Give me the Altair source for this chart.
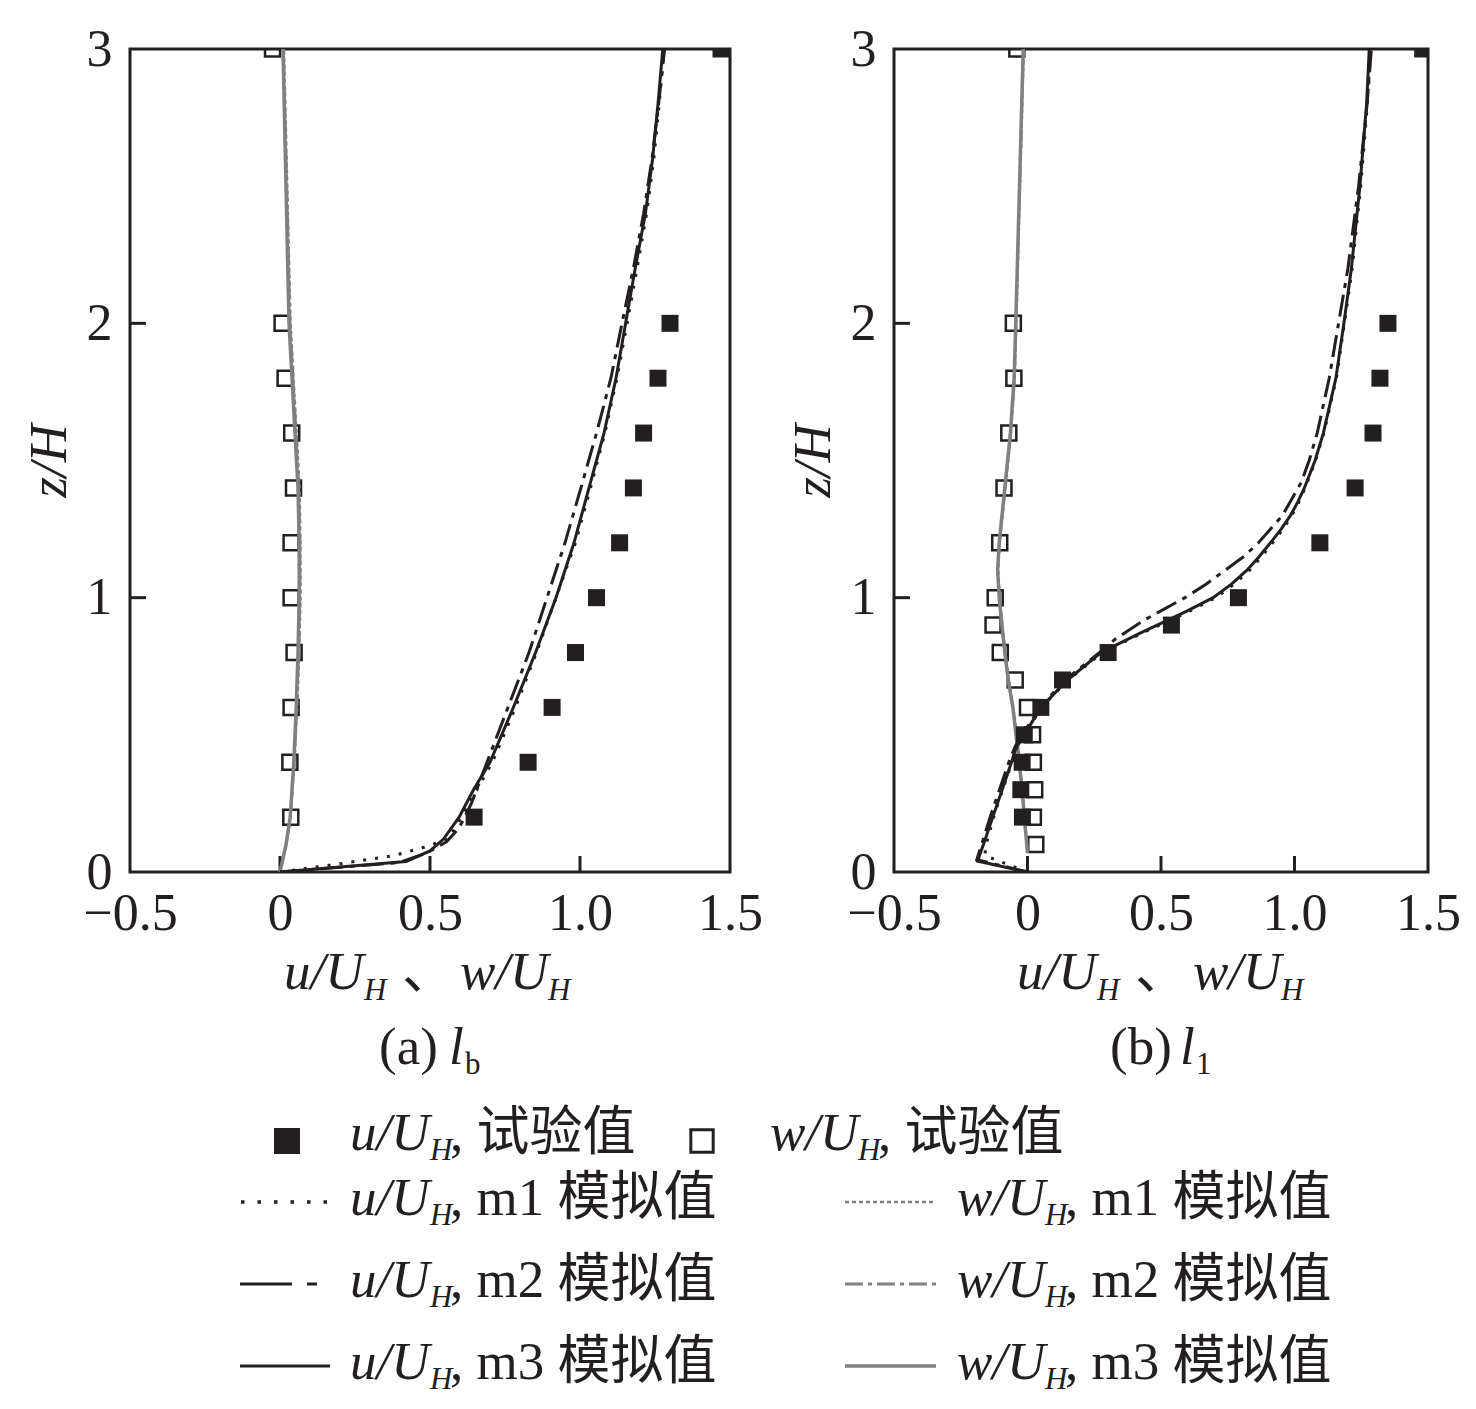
import altair as alt
import pandas as pd

# ---------------- data: panel (a) l_b ----------------
A_EXP_Z = [0.2, 0.4, 0.6, 0.8, 1.0, 1.2, 1.4, 1.6, 1.8, 2.0, 3.0]
A_U_EXP = [0.647, 0.827, 0.907, 0.985, 1.055, 1.132, 1.178, 1.212, 1.26, 1.30, 1.47]
A_W_EXP = [0.036, 0.033, 0.037, 0.047, 0.037, 0.037, 0.045, 0.039, 0.017, 0.007, -0.025]

A_U_M3_Z = [0, 0.038, 0.077, 0.12, 0.2, 0.3, 0.4, 0.6, 0.8, 1.0, 1.2, 1.4, 1.6, 1.8, 2.0, 2.2, 2.4, 2.6, 2.8, 3.0]
A_U_M3 = [0, 0.42, 0.50, 0.545, 0.597, 0.645, 0.70, 0.778, 0.852, 0.92, 0.98, 1.03, 1.08, 1.12, 1.152, 1.184, 1.218, 1.242, 1.26, 1.276]
A_U_M1_Z = [0, 0.03, 0.06, 0.09, 0.12, 0.2, 0.4, 0.6, 0.8, 1.0, 1.2, 1.4, 1.6, 1.8, 2.0, 2.2, 2.4, 2.6, 2.8, 3.0]
A_U_M1 = [0, 0.2, 0.38, 0.48, 0.56, 0.605, 0.708, 0.785, 0.855, 0.92, 0.985, 1.035, 1.083, 1.123, 1.157, 1.19, 1.222, 1.246, 1.264, 1.28]
A_U_M2_Z = [0, 0.035, 0.07, 0.11, 0.16, 0.25, 0.4, 0.6, 0.8, 1.0, 1.2, 1.4, 1.6, 1.8, 2.0, 2.2, 2.4, 2.6, 2.8, 3.0]
A_U_M2 = [0, 0.40, 0.49, 0.555, 0.597, 0.638, 0.69, 0.76, 0.83, 0.89, 0.95, 1.003, 1.055, 1.103, 1.14, 1.178, 1.212, 1.24, 1.262, 1.282]

A_W_Z = [0, 0.1, 0.2, 0.4, 0.6, 0.8, 1.0, 1.2, 1.4, 1.6, 1.8, 2.0, 2.5, 3.0]
A_W_M3 = [0, 0.02, 0.034, 0.046, 0.054, 0.06, 0.064, 0.064, 0.06, 0.05, 0.04, 0.03, 0.02, 0.01]
A_W_M1 = [0, 0.021, 0.036, 0.049, 0.058, 0.065, 0.069, 0.069, 0.066, 0.056, 0.046, 0.036, 0.025, 0.014]
A_W_M2 = [0, 0.021, 0.035, 0.048, 0.056, 0.063, 0.067, 0.067, 0.063, 0.054, 0.044, 0.034, 0.023, 0.012]

# ---------------- data: panel (b) l_1 ----------------
B_U_EXP_Z = [0.2, 0.3, 0.4, 0.5, 0.6, 0.7, 0.8, 0.9, 1.0, 1.2, 1.4, 1.6, 1.8, 2.0, 3.0]
B_U_EXP = [-0.019, -0.025, -0.02, -0.012, 0.05, 0.131, 0.302, 0.539, 0.79, 1.095, 1.227, 1.294, 1.32, 1.35, 1.48]
B_W_EXP_Z = [0.1, 0.2, 0.3, 0.4, 0.5, 0.6, 0.7, 0.8, 0.9, 1.0, 1.2, 1.4, 1.6, 1.8, 2.0, 3.0]
B_W_EXP = [0.031, 0.022, 0.027, 0.022, 0.019, 0.0, -0.046, -0.102, -0.129, -0.121, -0.104, -0.088, -0.07, -0.051, -0.053, -0.04]

B_U_M3_Z = [0, 0.04, 0.1, 0.2, 0.3, 0.4, 0.45, 0.5, 0.56, 0.63, 0.7, 0.8, 0.87, 0.95, 1.0, 1.05, 1.1, 1.15, 1.2, 1.25, 1.3, 1.35, 1.4, 1.5, 1.6, 1.8, 2.0, 2.2, 2.5, 2.8, 3.0]
B_U_M3 = [0, -0.187, -0.165, -0.13, -0.095, -0.06, -0.044, -0.012, 0.025, 0.08, 0.15, 0.275, 0.42, 0.595, 0.695, 0.765, 0.822, 0.868, 0.91, 0.95, 0.985, 1.013, 1.037, 1.077, 1.108, 1.155, 1.185, 1.213, 1.245, 1.27, 1.28]
B_U_M1_Z = [0, 0.06, 0.1, 0.2, 0.3, 0.4, 0.45, 0.5, 0.56, 0.63, 0.7, 0.8, 0.87, 0.95, 1.0, 1.05, 1.1, 1.15, 1.2, 1.25, 1.3, 1.35, 1.4, 1.5, 1.6, 1.8, 2.0, 2.2, 2.5, 2.8, 3.0]
B_U_M1 = [0, -0.16, -0.155, -0.127, -0.093, -0.058, -0.042, -0.01, 0.027, 0.082, 0.153, 0.28, 0.428, 0.605, 0.705, 0.775, 0.832, 0.877, 0.918, 0.957, 0.99, 1.017, 1.04, 1.079, 1.11, 1.157, 1.187, 1.216, 1.248, 1.273, 1.284]
B_U_M2_Z = [0, 0.045, 0.1, 0.2, 0.3, 0.4, 0.46, 0.5, 0.56, 0.63, 0.7, 0.8, 0.85, 0.92, 1.0, 1.05, 1.1, 1.15, 1.2, 1.3, 1.42, 1.5, 1.6, 1.8, 2.0, 2.2, 2.5, 2.8, 3.0]
B_U_M2 = [0, -0.19, -0.172, -0.14, -0.105, -0.07, -0.045, -0.02, 0.02, 0.075, 0.14, 0.27, 0.33, 0.44, 0.59, 0.67, 0.74, 0.81, 0.865, 0.955, 1.025, 1.055, 1.085, 1.13, 1.165, 1.2, 1.24, 1.272, 1.288]

B_W_Z = [0.07, 0.2, 0.3, 0.45, 0.6, 0.7, 0.8, 0.9, 1.0, 1.1, 1.2, 1.4, 1.6, 1.8, 2.0, 2.5, 3.0]
B_W_M3 = [0.0, -0.012, -0.02, -0.037, -0.055, -0.072, -0.085, -0.096, -0.106, -0.112, -0.106, -0.085, -0.064, -0.05, -0.044, -0.03, -0.016]
B_W_M1 = [0.0, -0.010, -0.018, -0.034, -0.052, -0.069, -0.082, -0.093, -0.103, -0.109, -0.103, -0.082, -0.061, -0.047, -0.041, -0.027, -0.013]
B_W_M2 = [0.0, -0.011, -0.019, -0.036, -0.054, -0.071, -0.084, -0.095, -0.105, -0.111, -0.105, -0.084, -0.063, -0.049, -0.043, -0.029, -0.015]

X_TICKS = [-0.5, 0, 0.5, 1.0, 1.5]
Y_TICKS = [0, 1, 2, 3]
INNER_X = [0, 0.5, 1.0]
INNER_Y = [1, 2]

# ---------------- styling ----------------
FONT = "Liberation Serif, Noto Sans CJK SC, serif"
BLACK = "#231f20"
GREY = "#808080"
WA, WB, H = 600, 534, 823
TS = 53        # text size
SUB = 31       # subscript size

yscale = alt.Scale(domain=[0, 3], nice=False, zero=False)

ax_x = alt.Axis(values=X_TICKS, ticks=False, domain=False, grid=False,
                labelExpr="datum.value == 0 ? '0' : format(datum.value, '.1f')",
                labelFont=FONT, labelFontSize=52, labelColor=BLACK, labelPadding=16,
                labelFlush=False, labelOverlap=False, title=None)
ax_y = alt.Axis(values=Y_TICKS, format='d', ticks=False, domain=False, grid=False,
                labelFont=FONT, labelFontSize=52, labelColor=BLACK, labelPadding=18,
                labelFlush=False, labelOverlap=False,
                title='z/H', titleFont=FONT, titleFontSize=53, titleFontStyle='italic',
                titleFontWeight='normal', titleColor=BLACK, titlePadding=10)


def one():
    return pd.DataFrame({'k': [0]})


def curve(z, v, xs, color, width, dash=None):
    df = pd.DataFrame({'z': z, 'v': v, 'i': list(range(len(z)))})
    kw = dict(color=color, strokeWidth=width, clip=True)
    if dash:
        kw['strokeDash'] = dash
    return alt.Chart(df).mark_line(**kw).encode(
        x=alt.X('v:Q', scale=xs, axis=ax_x),
        y=alt.Y('z:Q', scale=yscale, axis=ax_y),
        order=alt.Order('i:Q'))


def squares(z, v, xs, filled):
    df = pd.DataFrame({'z': z, 'v': v})
    if filled:
        m = alt.Chart(df).mark_point(shape='square', filled=True, size=289, color=BLACK,
                                     opacity=1, clip=True)
    else:
        m = alt.Chart(df).mark_point(shape='square', filled=False, size=225, color=BLACK,
                                     strokeWidth=2.5, opacity=1, clip=True)
    return m.encode(x=alt.X('v:Q', scale=xs, axis=ax_x),
                    y=alt.Y('z:Q', scale=yscale, axis=ax_y))


def inner_ticks(xs):
    tx = alt.Chart(pd.DataFrame({'t': INNER_X})).mark_rule(color=BLACK, strokeWidth=3).encode(
        x=alt.X('t:Q', scale=xs, axis=ax_x), y=alt.value(H), y2=alt.value(H - 16))
    ty = alt.Chart(pd.DataFrame({'t': INNER_Y})).mark_rule(color=BLACK, strokeWidth=3).encode(
        y=alt.Y('t:Q', scale=yscale, axis=ax_y), x=alt.value(0), x2=alt.value(16))
    return [tx, ty]


def txt(s, x, y, size=TS, style='normal'):
    return alt.Chart(one()).mark_text(font=FONT, fontSize=size, fontStyle=style, align='left',
                                      baseline='alphabetic', color=BLACK).encode(
        x=alt.value(x), y=alt.value(y), text=alt.value(s))


def seg(x1, x2, y, color, width, dash=None):
    kw = dict(color=color, strokeWidth=width)
    if dash:
        kw['strokeDash'] = dash
    return alt.Chart(one()).mark_rule(**kw).encode(x=alt.value(x1), x2=alt.value(x2), y=alt.value(y))


def xtitle(x0, y0):
    # u/U_H 、 w/U_H
    return [txt('u/U', x0, y0, style='italic'), txt('H', x0 + 80, y0 + 11, SUB, 'italic'),
            txt('、', x0 + 118, y0), txt('w/U', x0 + 176, y0, style='italic'),
            txt('H', x0 + 264, y0 + 11, SUB, 'italic')]


def caption(x0, y0, lab, sub):
    return [txt(lab, x0, y0), txt('l', x0 + 70, y0, style='italic'),
            txt(sub, x0 + 86, y0 + 10, SUB)]


DOT = [3, 9]
DASHDOT_B = [22, 7, 5, 7]
GREY_DOT = [4, 3]
GREY_DD = [18, 5, 4, 5]

# ---------------- panel (a) ----------------
xa = alt.Scale(domain=[-0.5, 1.5], nice=False, zero=False)
layers_a = inner_ticks(xa) + [
    squares(A_EXP_Z, A_W_EXP, xa, False),
    curve(A_W_Z, A_W_M1, xa, GREY, 2, GREY_DOT),
    curve(A_W_Z, A_W_M2, xa, GREY, 2.5, GREY_DD),
    curve(A_W_Z, A_W_M3, xa, GREY, 3.5),
    curve(A_U_M1_Z, A_U_M1, xa, BLACK, 3, DOT),
    curve(A_U_M2_Z, A_U_M2, xa, BLACK, 3, DASHDOT_B),
    curve(A_U_M3_Z, A_U_M3, xa, BLACK, 3),
    squares(A_EXP_Z, A_U_EXP, xa, True),
]
layers_a += xtitle(154, 940) + caption(249, 1015, '(a)', 'b')

# legend (positions relative to panel (a) plot origin)
R1, R2, R3, R4 = 1101, 1166, 1248, 1330
legend = [
    alt.Chart(one()).mark_point(shape='square', filled=True, size=676, color=BLACK, opacity=1).encode(
        x=alt.value(157), y=alt.value(R1 - 9)),
    alt.Chart(one()).mark_point(shape='square', filled=False, size=500, color=BLACK, strokeWidth=3,
                                opacity=1).encode(x=alt.value(572), y=alt.value(R1 - 9)),
    seg(111, 200, R2 - 13, BLACK, 3.5, [3.5, 13]),
    seg(110, 200, R3 - 13, BLACK, 3, [52, 15, 10, 40]),
    seg(110, 200, R4 - 13, BLACK, 3),
    seg(715, 804, R2 - 13, GREY, 2.5, GREY_DOT),
    seg(715, 806, R3 - 13, GREY, 3, GREY_DD),
    seg(715, 806, R4 - 13, GREY, 3.5),
]


def entry(x0, y0, var, rest):
    w = 80 if var == 'u' else 88
    return [txt(var + '/U', x0, y0, style='italic'), txt('H', x0 + w, y0 + 10, SUB, 'italic'),
            txt(rest, x0 + w + 20, y0)]


legend += entry(220, R1, 'u', ', 试验值') + entry(640, R1, 'w', ', 试验值')
for r, m in [(R2, 'm1'), (R3, 'm2'), (R4, 'm3')]:
    legend += entry(220, r, 'u', ', ' + m + ' 模拟值') + entry(827, r, 'w', ', ' + m + ' 模拟值')
layers_a += legend

panel_a = alt.layer(*layers_a).properties(width=WA, height=H)

# ---------------- panel (b) ----------------
xb = alt.Scale(domain=[-0.5, 1.5], nice=False, zero=False)
layers_b = inner_ticks(xb) + [
    squares(B_W_EXP_Z, B_W_EXP, xb, False),
    curve(B_W_Z, B_W_M1, xb, GREY, 2, GREY_DOT),
    curve(B_W_Z, B_W_M2, xb, GREY, 2.5, GREY_DD),
    curve(B_W_Z, B_W_M3, xb, GREY, 3.5),
    curve(B_U_M1_Z, B_U_M1, xb, BLACK, 3, DOT),
    curve(B_U_M2_Z, B_U_M2, xb, BLACK, 3, DASHDOT_B),
    curve(B_U_M3_Z, B_U_M3, xb, BLACK, 3),
    squares(B_U_EXP_Z, B_U_EXP, xb, True),
]
layers_b += xtitle(123, 940) + caption(216, 1015, '(b)', '1')
panel_b = alt.layer(*layers_b).properties(width=WB, height=H)

chart = alt.hconcat(panel_a, panel_b, spacing=164, bounds='flush').resolve_scale(
    x='independent', y='independent'
).properties(
    padding={"left": 13, "top": 13, "right": 5, "bottom": 5}, background='white'
).configure_view(stroke=BLACK, strokeWidth=3)

chart.save("out.html", embed_options={"renderer": "svg", "actions": False})
